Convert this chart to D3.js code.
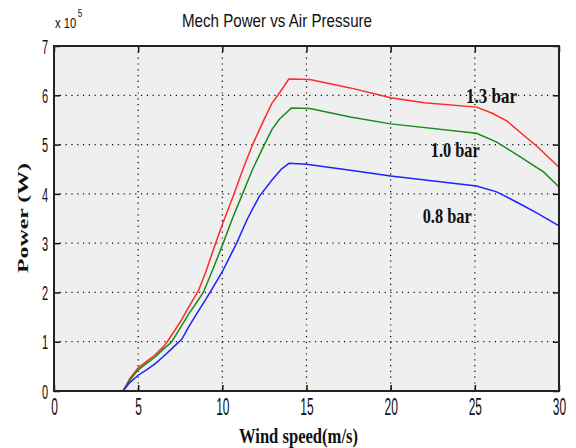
<!DOCTYPE html>
<html><head><meta charset="utf-8">
<script src="https://cdn.jsdelivr.net/npm/d3@7"></script>
<style>body{margin:0;background:#fff}svg{display:block}</style>
</head><body>
<svg id="c" width="576" height="448"></svg>
<script>
const seriesNames = ["1.3 bar", "1.0 bar", "0.8 bar"];
const seriesColors = ["#ff2a2a", "#1a8a1a", "#2020ff"];
const windRed =   [4.1,4.5,5,5.5,6,6.5,6.73,7.5,8,8.57,9,9.6,10,10.7,11.2,11.8,12.4,12.95,13.3,13.95,15.2,17.6,20,22,25.1,26,26.9,27.9,28.7,30];
const powerRed =  [0,0.25,0.47,0.6,0.73,0.9,1.0,1.4,1.7,2.03,2.4,3.0,3.38,4.0,4.48,5.0,5.45,5.84,6.0,6.33,6.32,6.15,5.95,5.85,5.76,5.64,5.48,5.19,4.96,4.54];
const windGreen = [4.1,4.5,5,5.5,6,6.5,7,7.5,8,8.5,8.87,9.5,10.05,10.6,11.2,11.8,12.5,12.95,13.4,13.85,14.1,15.2,17.6,20,25.1,26.3,27.7,29.1,30];
const powerGreen= [0,0.22,0.43,0.56,0.69,0.85,1.0,1.28,1.56,1.81,2.0,2.52,3.0,3.5,4.0,4.5,5.0,5.31,5.52,5.66,5.74,5.73,5.56,5.42,5.23,5.05,4.75,4.44,4.14];
const windBlue =  [4.1,4.5,5,5.5,6,6.5,7,7.59,8,8.5,9,9.27,10,10.85,11.5,12.2,12.95,13.5,13.96,15,17.6,20,25.1,26.3,27.5,28.7,30];
const powerBlue = [0,0.17,0.32,0.43,0.55,0.7,0.86,1.05,1.3,1.58,1.85,2.0,2.42,3.0,3.5,3.95,4.28,4.5,4.62,4.6,4.48,4.36,4.16,4.04,3.83,3.61,3.35];
const xTicks = [0,5,10,15,20,25,30];
const yTicks = [0,1,2,3,4,5,6,7];
const labelX = [24.48, 22.38, 21.9];
const labelY = [5.84, 4.75, 3.40];
const title = "Mech Power vs Air Pressure";
const xLabel = "Wind speed(m/s)";
const yLabel = "Power  (W)";

const svg = d3.select("#c");
const L = 54, R = 559, T = 46, B = 391;
const x = d3.scaleLinear().domain([0,30]).range([L,R]);
const y = d3.scaleLinear().domain([0,7]).range([B,T]);

svg.append("rect").attr("x",L).attr("y",T).attr("width",R-L).attr("height",B-T).attr("fill","#efefef");

// grid
const grid = svg.append("g").attr("stroke","#111").attr("stroke-width",1.3).attr("stroke-dasharray","1.2,4.6");
xTicks.slice(1,-1).forEach(v=>grid.append("line").attr("x1",x(v)).attr("x2",x(v)).attr("y1",T).attr("y2",B));
yTicks.slice(1,-1).forEach(v=>grid.append("line").attr("y1",y(v)).attr("y2",y(v)).attr("x1",L).attr("x2",R));

// series
const series = [[windRed,powerRed],[windGreen,powerGreen],[windBlue,powerBlue]];
const line = d3.line().x(d=>x(d[0])).y(d=>y(d[1]));
series.forEach((s,i)=>{
  const pts = s[0].map((w,j)=>[w,s[1][j]]);
  svg.append("path").datum(pts).attr("d",line).attr("fill","none")
    .attr("stroke",seriesColors[i]).attr("stroke-width",1.5);
});

// axes (ticks inward)
const fontTick = "'Liberation Sans', Arial, sans-serif";
const ax = svg.append("g").attr("transform",`translate(0,${B})`)
  .call(d3.axisBottom(x).tickValues(xTicks).tickSize(-6).tickPadding(0).tickFormat(d3.format("d")));
ax.select(".domain").remove();
ax.selectAll("line").attr("stroke","#111").attr("stroke-width",1.5);
ax.selectAll("text").attr("y",24).attr("dy",null).attr("font-size",23).attr("font-family",fontTick)
  .attr("fill","#111").attr("transform","scale(0.52,1)");

const axT = svg.append("g").attr("transform",`translate(0,${T})`)
  .call(d3.axisTop(x).tickValues(xTicks).tickSize(-6).tickFormat(""));
axT.select(".domain").remove();
axT.selectAll("line").attr("stroke","#111").attr("stroke-width",1.5);

const ay = svg.append("g").attr("transform",`translate(${L},0)`)
  .call(d3.axisLeft(y).tickValues(yTicks).tickSize(-6).tickPadding(0).tickFormat(d3.format("d")));
ay.select(".domain").remove();
ay.selectAll("line").attr("stroke","#111").attr("stroke-width",1.5);
ay.selectAll("text").attr("x",-6/0.55).attr("dy","0.36em").attr("font-size",20).attr("font-family",fontTick)
  .attr("fill","#111").attr("transform","scale(0.55,1)");

const ayR = svg.append("g").attr("transform",`translate(${R},0)`)
  .call(d3.axisRight(y).tickValues(yTicks).tickSize(-6).tickFormat(""));
ayR.select(".domain").remove();
ayR.selectAll("line").attr("stroke","#111").attr("stroke-width",1.5);

// frame
svg.append("rect").attr("x",L).attr("y",T).attr("width",R-L).attr("height",B-T)
  .attr("fill","none").attr("stroke","#222").attr("stroke-width",2);

// exponent (single text with superscript)
const ex = svg.append("text").attr("transform","translate(55,28) scale(0.8,1)")
  .attr("font-family",fontTick).attr("font-size",14).attr("fill","#111");
ex.append("tspan").text("x 10");
ex.append("tspan").attr("dx",2).attr("dy",-11).attr("font-size",10).text("5");

// title
svg.append("text").attr("x",182).attr("y",27).attr("font-family",fontTick).attr("font-size",19)
  .attr("fill","#111").attr("textLength",190).attr("lengthAdjust","spacingAndGlyphs").text(title);

// series labels
const labelW = [51, 49, 49];
seriesNames.forEach((n,i)=>{
  svg.append("text").attr("x",x(labelX[i])).attr("y",y(labelY[i]))
    .attr("font-family","'Liberation Serif','Times New Roman',serif").attr("font-weight","bold")
    .attr("font-size",22).attr("fill","#111").attr("textLength",labelW[i]).attr("lengthAdjust","spacingAndGlyphs").text(n);
});

// axis labels
svg.append("text").attr("x",239).attr("y",443).attr("font-family","'Liberation Serif','Times New Roman',serif")
  .attr("font-weight","bold").attr("font-size",20).attr("fill","#111")
  .attr("textLength",119).attr("lengthAdjust","spacingAndGlyphs").text(xLabel);

svg.append("text").attr("transform","translate(28,218) scale(0.62,1) rotate(-90)")
  .attr("text-anchor","middle").attr("font-family","'Liberation Serif','Times New Roman',serif")
  .attr("font-weight","bold").attr("font-size",24).attr("fill","#111")
  .attr("textLength",110).attr("lengthAdjust","spacingAndGlyphs").text(yLabel);
</script>
</body></html>
